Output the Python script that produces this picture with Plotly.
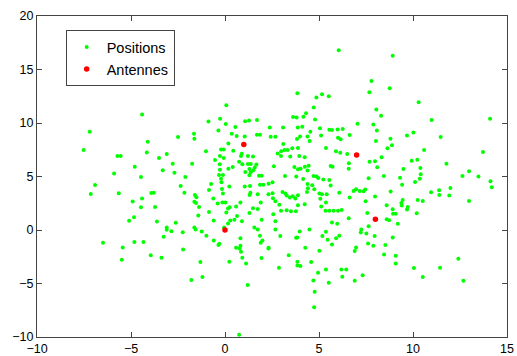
import plotly.graph_objects as go

# Antenna positions
ant_x = [0, 1, 7, 8]
ant_y = [0, 8, 7, 1]

# Mobile positions (x, y)
positions = [
    (-4.41, 10.79),
    (0.07, 11.67), (-0.26, 10.39), (-0.88, 10.14), (1.07, 10.17), (1.28, 10.24), (1.70, 10.27),
    (6.05, 16.79), (7.79, 13.93), (7.68, 12.88), (3.85, 12.78), (4.86, 12.38), (5.16, 12.69),
    (5.52, 12.50), (4.72, 11.45), (8.05, 11.26), (4.31, 10.92), (3.62, 10.55), (3.81, 10.52),
    (4.17, 10.58), (4.79, 10.33), (8.30, 10.67),
    (8.92, 16.29), (8.76, 13.25), (10.30, 11.94), (10.99, 10.27), (14.10, 10.39),
    (-7.20, 9.18), (-4.11, 8.25), (-7.52, 7.47), (-4.16, 7.25), (-5.72, 6.91), (-5.55, 6.91),
    (-4.80, 5.92), (-5.90, 5.27), (-4.47, 4.96), (-6.91, 4.21), (-7.14, 3.37), (-5.65, 3.43),
    (-3.92, 3.46), (-4.41, 2.94), (-4.91, 2.66), (-4.47, 2.13), (-4.84, 1.20), (-5.10, 0.86),
    # centre left
    (-2.50, 8.68), (-1.65, 8.99), (-1.63, 8.53), (-0.35, 9.31), (0.04, 9.90), (0.55, 9.62),
    (0.36, 8.99), (0.62, 8.78), (1.05, 8.75), (1.70, 8.90), (1.86, 8.90), (0.18, 8.09),
    (-0.21, 7.53), (-0.07, 7.53), (0.44, 7.41), (-1.01, 7.35), (0.89, 7.13), (0.85, 6.91),
    (1.22, 6.91), (1.49, 6.88), (-3.51, 6.73), (-3.10, 7.10), (-0.27, 6.91), (-0.53, 6.54),
    (-0.07, 6.73), (-2.78, 6.20), (-1.75, 6.20), (-0.28, 6.14), (0.75, 6.39), (0.92, 6.14),
    (1.22, 6.17), (1.37, 6.17), (1.67, 6.11), (1.58, 5.83), (0.41, 5.89), (0.18, 5.73),
    (-0.27, 5.64), (1.30, 5.70), (1.08, 5.42), (1.51, 5.58), (-3.31, 5.58), (-2.69, 5.36),
    (-0.32, 5.14), (-0.11, 5.14), (1.37, 5.39), (1.30, 5.11), (1.81, 5.08), (1.95, 5.08),
    (-2.11, 4.96), (-0.21, 4.80), (-0.74, 4.30), (-0.19, 4.46), (0.23, 4.06), (1.05, 4.06),
    (1.33, 4.12), (-2.36, 4.12), (-0.85, 3.74), (-0.16, 3.84), (-0.11, 3.40), (1.35, 3.47),
    (1.31, 3.28), (1.86, 4.24), (2.04, 4.24), (-3.79, 3.47), (-2.16, 3.47), (-1.60, 3.28),
    (-1.52, 3.06), (-0.62, 2.94), (1.74, 3.34), (2.31, 3.34), (-1.63, 2.63), (-1.54, 2.53),
    (-0.39, 2.47), (-0.14, 2.56), (0.02, 2.56), (0.82, 2.56), (1.90, 2.56), (-3.72, 2.16),
    (-1.38, 2.16), (0.25, 2.13), (0.16, 2.01), (0.59, 2.19), (1.49, 2.04), (1.74, 1.97),
    (-0.85, 1.69), (0.07, 1.63), (1.30, 1.60), (-1.42, 1.35), (0.64, 1.32), (0.50, 0.95),
    (-0.60, 0.89), (0.28, 0.89), (0.90, 0.82), (-3.62, 0.79), (-2.62, 0.67), (0.16, 0.61),
    (1.95, 0.95), (-0.05, 0.23), (-3.10, 0.23), (-1.63, 0.23), (1.56, 0.23),
    # centre right
    (2.38, 9.58), (3.09, 9.58), (3.87, 9.58), (4.11, 9.65), (4.54, 9.18), (5.05, 9.52),
    (5.11, 8.84), (5.55, 9.37), (5.69, 9.34), (5.99, 9.40), (6.26, 9.43), (6.01, 8.62),
    (6.15, 8.47), (6.63, 8.87), (7.05, 9.93), (7.89, 9.86), (8.08, 9.31), (8.03, 8.31),
    (2.68, 8.71), (2.43, 8.71), (3.10, 8.03), (3.17, 7.47), (3.33, 7.47), (2.99, 7.35),
    (3.58, 7.63), (3.88, 7.66), (3.83, 8.50), (3.99, 8.75), (4.39, 8.75), (4.50, 8.31),
    (2.80, 7.16), (2.98, 6.91), (3.47, 6.88), (3.95, 6.91), (4.24, 6.79), (5.37, 7.66),
    (5.90, 7.35), (6.13, 7.22), (6.50, 7.10), (7.69, 6.39), (7.98, 6.42), (8.10, 5.86),
    (8.33, 6.79), (6.59, 6.23), (6.58, 5.73), (2.60, 5.95), (3.69, 5.89), (3.88, 5.67),
    (4.02, 5.73), (4.25, 5.92), (4.45, 6.01), (4.39, 5.55), (5.62, 5.98), (5.72, 5.92),
    (3.19, 5.05), (3.79, 4.99), (4.71, 5.05), (4.87, 4.99), (4.96, 4.86), (5.23, 4.71),
    (5.55, 4.68), (5.62, 4.15), (2.32, 4.33), (2.53, 4.46), (7.64, 4.83), (8.45, 5.05),
    (4.16, 4.77), (4.39, 4.30), (4.64, 4.18), (4.41, 3.90), (3.06, 3.56), (3.21, 3.40),
    (3.28, 3.22), (3.45, 3.03), (3.60, 3.15), (3.74, 2.94), (3.88, 3.25), (2.53, 3.43),
    (2.55, 2.97), (2.68, 2.69), (4.36, 3.56), (4.75, 3.81), (5.02, 3.40), (5.16, 3.34),
    (5.41, 3.34), (5.07, 2.91), (6.08, 3.47), (6.84, 3.65), (6.97, 3.81), (7.16, 3.65),
    (7.37, 3.62), (7.46, 3.78), (7.48, 2.69), (7.98, 3.12), (6.63, 3.03), (2.89, 2.35),
    (3.88, 2.32), (4.24, 2.41), (5.37, 2.56), (5.12, 2.19), (5.35, 1.79), (5.55, 1.79),
    (5.78, 1.79), (6.01, 1.79), (6.20, 1.88), (2.57, 1.48), (2.98, 1.79), (3.28, 1.85),
    (3.51, 1.76), (3.77, 1.76), (6.58, 1.10), (7.57, 1.60), (2.68, 0.82), (5.69, 0.70),
    (5.97, 0.58), (7.64, 0.36),
    # right
    (9.68, 8.84), (10.02, 9.12), (8.80, 8.53), (8.64, 7.63), (8.88, 7.91), (11.47, 8.68),
    (10.59, 7.47), (13.72, 7.29), (9.93, 6.48), (10.23, 6.57), (11.78, 6.20), (10.39, 5.79),
    (9.49, 5.70), (10.41, 5.20), (10.36, 4.80), (9.31, 4.89), (9.42, 4.24), (10.11, 4.49),
    (12.63, 5.05), (12.98, 5.48), (13.48, 4.99), (14.12, 4.55), (14.19, 3.99), (8.81, 3.59),
    (10.96, 3.53), (11.39, 3.71), (11.40, 3.28), (11.99, 3.93), (11.93, 3.22), (12.98, 2.72),
    (10.25, 2.81), (10.52, 2.72), (9.45, 2.81), (9.38, 2.53), (9.40, 2.28), (8.60, 2.32),
    (8.92, 1.94), (9.72, 2.16), (9.68, 1.91), (8.94, 1.51), (9.08, 1.51), (10.20, 1.57),
    (8.60, 1.01), (8.73, 0.92), (9.19, 0.58),
    # lower left
    (-6.49, -1.20), (-5.44, -1.63), (-4.82, -1.13), (-4.34, -1.13), (-3.95, -2.35), (-5.49, -2.78),
    # lower centre
    (-3.10, 0.02), (-2.85, -0.11), (-2.25, -0.20), (-1.56, 0.05), (-1.24, -0.14), (-0.99, -0.54),
    (-3.26, -0.64), (-0.60, -0.98), (-0.30, -1.29), (-0.35, -1.41), (0.82, -0.76), (0.59, -1.66),
    (0.78, -1.72), (0.82, -1.48), (0.85, -2.03), (1.74, 0.05), (1.86, -0.54), (1.99, -0.98),
    (1.90, -1.20), (2.31, -1.72), (-3.38, -2.59), (-2.23, -1.82), (-1.31, -3.00), (0.23, -2.97),
    (0.92, -2.59), (1.12, -3.12), (1.94, -2.62), (-1.79, -4.68), (-1.20, -4.40), (1.21, -5.14),
    (0.75, -9.80),
    (2.68, 0.05), (3.97, -0.14), (4.49, 0.05), (2.94, -0.57), (3.78, -0.73), (3.85, -0.70),
    (5.18, -0.57), (5.37, -0.17), (5.46, -0.92), (5.91, -0.76), (6.08, -0.54), (5.69, -1.35),
    (7.25, 0.05), (7.22, -0.23), (7.52, -0.33), (7.96, -0.57), (7.61, -1.26), (7.89, -1.48),
    (8.53, -1.41), (2.32, -1.66), (3.39, -2.35), (4.27, -1.66), (5.02, -1.94), (6.97, -1.63),
    (6.90, -1.97), (8.46, -2.28), (3.85, -2.97), (3.85, -3.31), (4.01, -3.37), (4.58, -3.00),
    (2.87, -3.53), (5.37, -3.68), (6.19, -3.68), (6.45, -3.68), (4.95, -3.99), (6.24, -4.36),
    (4.70, -4.71), (5.52, -4.92), (6.90, -4.74), (7.32, -4.24), (4.77, -5.76), (4.74, -7.22),
    # lower right
    (8.92, -0.70), (9.08, -2.41), (9.08, -3.12), (10.05, -3.56), (10.52, -4.40), (11.44, -3.53),
    (12.41, -2.69), (12.68, -4.74),
]
pos_x = [p[0] for p in positions]
pos_y = [p[1] for p in positions]

fig = go.Figure()
fig.add_trace(go.Scatter(
    x=pos_x, y=pos_y, mode="markers", name="Positions",
    marker=dict(color="#00ff00", size=4, line=dict(width=0)),
))
fig.add_trace(go.Scatter(
    x=ant_x, y=ant_y, mode="markers", name="Antennes",
    marker=dict(color="#ff0000", size=5.5, line=dict(width=0)),
))

axis_style = dict(
    showgrid=False, zeroline=False, showline=True, linecolor="#444444", linewidth=1,
    mirror="ticks", ticks="inside", ticklen=5, tickcolor="#444444", automargin=False,
    tickfont=dict(family="Liberation Sans, Arial, sans-serif", size=12.5, color="black"),
)
fig.update_xaxes(range=[-10, 15], dtick=5, **axis_style)
fig.update_yaxes(range=[-10, 20], dtick=5, **axis_style)

fig.update_layout(
    width=517, height=356,
    margin=dict(l=37, r=10, t=16, b=19),
    paper_bgcolor="white", plot_bgcolor="white",
    font=dict(family="Liberation Sans, Arial, sans-serif", size=14.5, color="black"),
    legend=dict(
        x=0.061, y=0.956, xanchor="left", yanchor="top",
        bgcolor="white", bordercolor="#444444", borderwidth=1,
        font=dict(size=14.5), itemwidth=30, tracegroupgap=0,
    ),
)

# page has a default body margin; drop it so the figure sits at the corner
fig.write_html("out.html", config={"displayModeBar": False},
               post_script="document.body.style.margin='0';")
